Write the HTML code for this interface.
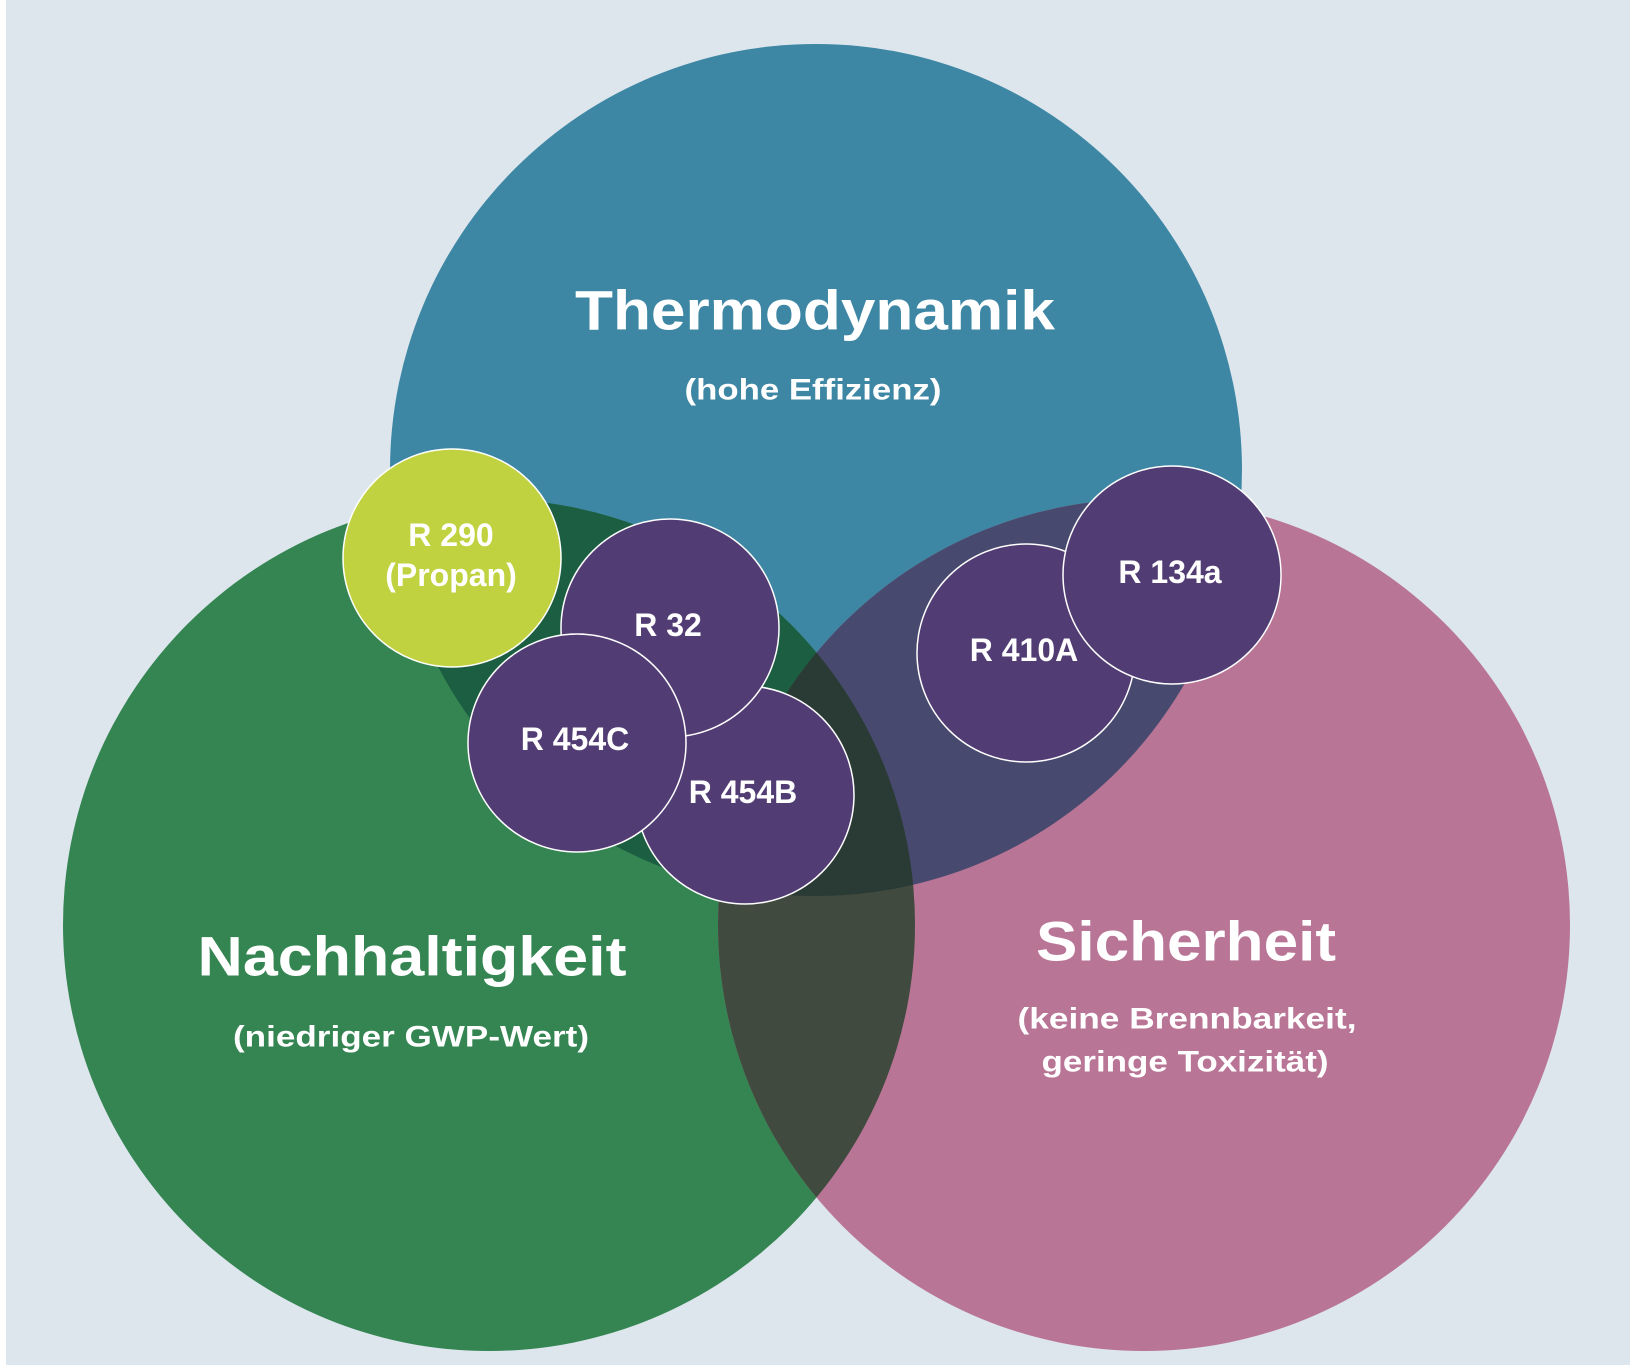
<!DOCTYPE html>
<html><head><meta charset="utf-8"><style>
html,body{margin:0;padding:0;background:#fff}
svg{display:block}
text{font-family:"Liberation Sans",sans-serif;font-weight:bold;fill:#fff}
</style></head><body>
<svg width="1630" height="1365" viewBox="0 0 1630 1365" xmlns="http://www.w3.org/2000/svg">
<defs>
<clipPath id="cT"><circle cx="816" cy="470" r="426"/></clipPath>
<clipPath id="cG"><circle cx="489" cy="925" r="426"/></clipPath>
<clipPath id="cP"><circle cx="1144" cy="925" r="426"/></clipPath>
</defs>
<rect x="0" y="0" width="1630" height="1365" fill="#fff"/>
<rect x="6" y="0" width="1624" height="1365" fill="#dce6ec"/>
<circle cx="816" cy="470" r="426" fill="#3e87a4"/>
<circle cx="489" cy="925" r="426" fill="#348552"/>
<circle cx="1144" cy="925" r="426" fill="#b97596"/>
<g clip-path="url(#cT)"><circle cx="489" cy="925" r="426" fill="#1b5e41"/><circle cx="1144" cy="925" r="426" fill="#474a6e"/></g>
<g clip-path="url(#cG)"><circle cx="1144" cy="925" r="426" fill="#414a3f"/></g>
<g clip-path="url(#cT)"><g clip-path="url(#cG)"><circle cx="1144" cy="925" r="426" fill="#2a3a35"/></g></g>
<g stroke="#fff" stroke-width="1.5">
<circle cx="452" cy="558" r="109" fill="#c0d23f"/>
<circle cx="745" cy="795" r="109" fill="#523c74"/>
<circle cx="670" cy="628" r="109" fill="#523c74"/>
<circle cx="577" cy="743" r="109" fill="#523c74"/>
<circle cx="1026" cy="653" r="109" fill="#523c74"/>
<circle cx="1172" cy="575" r="109" fill="#523c74"/>
</g>
<g text-anchor="middle" dominant-baseline="central">
<text x="815" y="310" font-size="56" textLength="480" lengthAdjust="spacingAndGlyphs">Thermodynamik</text>
<text x="813" y="390" font-size="30" textLength="257" lengthAdjust="spacingAndGlyphs">(hohe Effizienz)</text>
<text x="412" y="956" font-size="56" textLength="429" lengthAdjust="spacingAndGlyphs">Nachhaltigkeit</text>
<text x="411" y="1037" font-size="30" textLength="356" lengthAdjust="spacingAndGlyphs">(niedriger GWP-Wert)</text>
<text x="1186" y="941" font-size="56" textLength="300" lengthAdjust="spacingAndGlyphs">Sicherheit</text>
<text x="1187" y="1019" font-size="30" textLength="339" lengthAdjust="spacingAndGlyphs">(keine Brennbarkeit,</text>
<text x="1185" y="1062" font-size="30" textLength="287" lengthAdjust="spacingAndGlyphs">geringe Toxizität)</text>
<text x="451" y="535" font-size="32">R 290</text>
<text x="451" y="575" font-size="32">(Propan)</text>
<text x="668" y="625" font-size="32">R 32</text>
<text x="575" y="739" font-size="32">R 454C</text>
<text x="743" y="792" font-size="32">R 454B</text>
<text x="1024" y="650" font-size="32">R 410A</text>
<text x="1170" y="572" font-size="32">R 134a</text>
</g>
</svg>
</body></html>
